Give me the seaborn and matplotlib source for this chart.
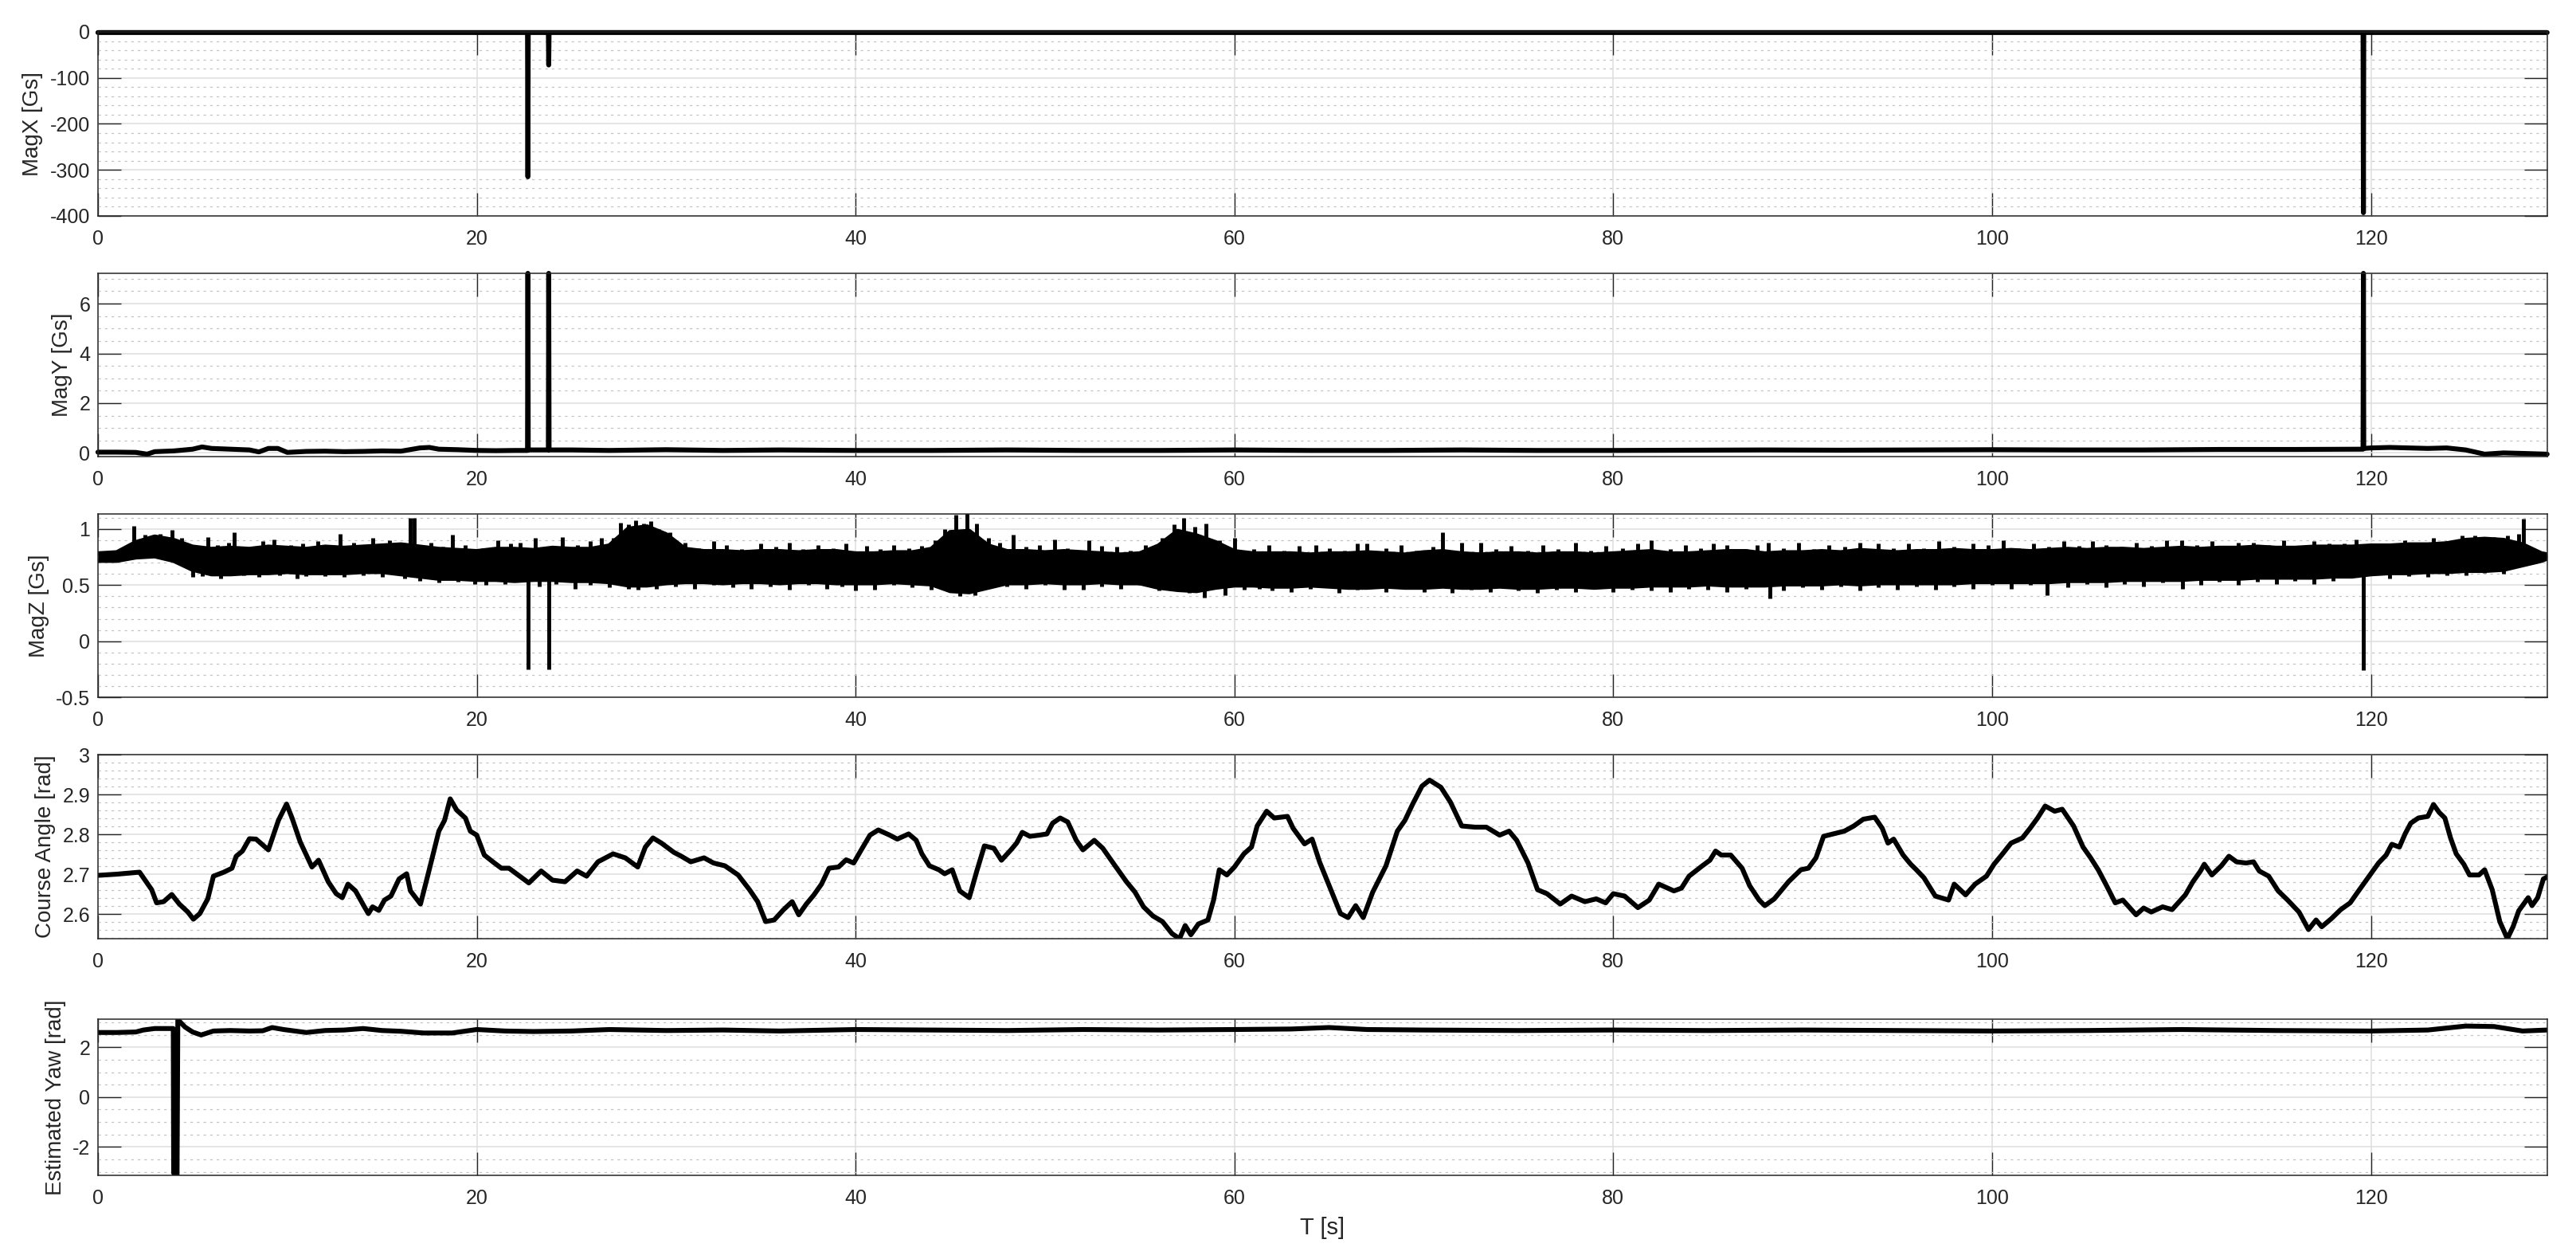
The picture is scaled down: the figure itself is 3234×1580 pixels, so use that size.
import numpy as np
import pandas as pd
import matplotlib
matplotlib.use("Agg")
import matplotlib.pyplot as plt
import seaborn as sns
from matplotlib.ticker import MultipleLocator, FuncFormatter

# ---------------- data ----------------
T_MAX = 129.3

# MagX [Gs]
magx_t = [0, 22.68, 22.70, 22.72, 23.78, 23.80, 23.82, 119.58, 119.60, 119.62, 129.3]
magx_v = [-1.5, -1.5, -315, -1.5, -1.5, -72, -1.5, -1.5, -393, -1.5, -1.5]

# MagY [Gs]
magy_t = [0, 1, 2, 2.6, 3, 4, 5, 5.5, 6, 7,
          8, 8.5, 9, 9.5, 10, 11, 12, 13, 14, 15,
          16, 17, 17.5, 18, 19, 20, 21, 22, 22.68, 22.70,
          22.72, 23, 23.78, 23.80, 23.82, 25, 27, 30, 33, 36,
          40, 44, 48, 52, 56, 60, 64, 68, 72, 76,
          80, 84, 88, 92, 96, 100, 104, 108, 112, 116,
          119.58, 119.60, 119.62, 120, 121, 122, 123, 124, 125, 126,
          127, 128, 129.3]
magy_v = [0.03, 0.03, 0.02, -0.05, 0.05, 0.08, 0.15, 0.24, 0.18, 0.15,
          0.12, 0.04, 0.18, 0.18, 0.02, 0.06, 0.07, 0.05, 0.06, 0.08,
          0.07, 0.20, 0.22, 0.15, 0.13, 0.10, 0.09, 0.10, 0.10, 7.22,
          0.12, 0.12, 0.12, 7.22, 0.12, 0.12, 0.10, 0.13, 0.10, 0.12,
          0.10, 0.10, 0.12, 0.10, 0.10, 0.12, 0.10, 0.10, 0.12, 0.10,
          0.10, 0.11, 0.12, 0.11, 0.12, 0.13, 0.12, 0.12, 0.14, 0.14,
          0.15, 7.22, 0.18, 0.20, 0.22, 0.20, 0.18, 0.20, 0.12, -0.05,
          0.00, -0.02, -0.05]

# MagZ [Gs]: noise band envelope (1 s steps) plus spikes
magz_env_t = list(range(0, 130)) + [129.3]
magz_hi = [0.78, 0.79, 0.88, 0.93, 0.90, 0.84, 0.82, 0.83, 0.82, 0.84,
           0.83, 0.82, 0.84, 0.83, 0.84, 0.85, 0.86, 0.84, 0.82, 0.81,
           0.80, 0.82, 0.82, 0.81, 0.83, 0.82, 0.82, 0.85, 1.00, 1.02,
           0.95, 0.82, 0.80, 0.80, 0.79, 0.80, 0.80, 0.79, 0.80, 0.80,
           0.78, 0.78, 0.79, 0.79, 0.82, 0.97, 0.98, 0.85, 0.80, 0.80,
           0.79, 0.80, 0.79, 0.78, 0.77, 0.78, 0.85, 0.98, 0.94, 0.88,
           0.80, 0.78, 0.78, 0.78, 0.77, 0.78, 0.78, 0.79, 0.78, 0.77,
           0.79, 0.80, 0.78, 0.77, 0.78, 0.78, 0.77, 0.78, 0.78, 0.77,
           0.78, 0.79, 0.80, 0.78, 0.78, 0.79, 0.80, 0.80, 0.78, 0.79,
           0.79, 0.80, 0.79, 0.81, 0.80, 0.79, 0.80, 0.80, 0.81, 0.80,
           0.80, 0.81, 0.80, 0.81, 0.82, 0.81, 0.82, 0.82, 0.81, 0.82,
           0.83, 0.82, 0.83, 0.83, 0.84, 0.83, 0.83, 0.84, 0.84, 0.84,
           0.85, 0.85, 0.86, 0.86, 0.87, 0.90, 0.91, 0.90, 0.86, 0.78,
           0.77]
magz_lo = [0.72, 0.72, 0.75, 0.76, 0.72, 0.64, 0.60, 0.60, 0.61, 0.61,
           0.62, 0.61, 0.61, 0.61, 0.62, 0.62, 0.60, 0.58, 0.56, 0.56,
           0.55, 0.55, 0.54, 0.55, 0.55, 0.54, 0.54, 0.53, 0.50, 0.50,
           0.52, 0.53, 0.53, 0.52, 0.53, 0.53, 0.52, 0.53, 0.53, 0.52,
           0.52, 0.52, 0.53, 0.52, 0.51, 0.45, 0.44, 0.48, 0.52, 0.52,
           0.53, 0.52, 0.52, 0.53, 0.52, 0.52, 0.48, 0.46, 0.45, 0.48,
           0.50, 0.50, 0.49, 0.49, 0.50, 0.49, 0.48, 0.48, 0.49, 0.48,
           0.48, 0.49, 0.48, 0.48, 0.49, 0.48, 0.48, 0.49, 0.49, 0.48,
           0.49, 0.49, 0.50, 0.50, 0.50, 0.51, 0.50, 0.50, 0.50, 0.51,
           0.51, 0.51, 0.52, 0.51, 0.52, 0.52, 0.52, 0.52, 0.52, 0.53,
           0.53, 0.53, 0.53, 0.53, 0.54, 0.54, 0.54, 0.55, 0.55, 0.55,
           0.55, 0.56, 0.56, 0.56, 0.57, 0.57, 0.57, 0.57, 0.58, 0.58,
           0.60, 0.61, 0.61, 0.62, 0.62, 0.63, 0.63, 0.64, 0.68, 0.72,
           0.74]
# large isolated spikes
magz_spike_t = [1.9, 3.9, 5.8, 7.2, 9.3, 12.8, 14.5, 16.5, 16.7, 18.7,
                21.1, 23.1, 24.5, 26.6, 27.6, 28.4, 29.2, 32.5, 36.5, 39.5,
                44.7, 45.3, 45.9, 46.4, 48.3, 50.5, 52.3, 56.8, 57.3, 57.9,
                58.5, 60.0, 64.3, 67.0, 71.0, 72.0, 82.0, 86.0, 88.2, 94.0,
                99.0, 106.0, 110.0, 113.8, 117.8, 121.0, 125.5, 126.5, 128.05,
                5.0, 11.0, 19.9, 22.7, 23.8, 25.2, 28.5, 29.5, 33.5, 40.0,
                45.5, 46.3, 51.0, 57.6, 58.4, 59.5, 62.0, 70.0, 75.0, 88.25,
                102.9, 110.05, 119.6]
magz_spike_v = [1.03, 0.99, 0.93, 0.97, 0.91, 0.96, 0.92, 1.10, 1.10, 0.95,
                0.90, 0.92, 0.93, 0.92, 1.06, 1.08, 1.07, 0.89, 0.88, 0.87,
                1.00, 1.13, 1.14, 1.05, 0.95, 0.91, 0.90, 1.04, 1.10, 1.02,
                1.05, 0.92, 0.86, 0.87, 0.97, 0.88, 0.90, 0.86, 0.88, 0.87,
                0.87, 0.86, 0.90, 0.88, 0.87, 0.87, 0.94, 0.93, 1.09,
                0.57, 0.58, 0.51, -0.25, -0.25, 0.47, 0.46, 0.47, 0.48, 0.45,
                0.40, 0.41, 0.46, 0.43, 0.39, 0.41, 0.45, 0.44, 0.45, 0.38,
                0.41, 0.47, -0.26]
# small ragged peaks along the band edges
magz_grass_up_t = [0.6, 2.5, 3.3, 4.4, 6.3, 6.9, 8.1, 8.7, 10.2, 10.8,
                   11.6, 12.2, 13.5, 15.4, 15.9, 17.6, 18.2, 19.4, 20.3, 21.8,
                   22.3, 24.0, 25.3, 26.0, 27.2, 28.0, 28.8, 29.6, 30.2, 31.0,
                   31.7, 33.2, 34.0, 35.0, 35.8, 37.2, 38.0, 38.8, 40.6, 41.3,
                   42.0, 42.8, 43.5, 44.2, 47.0, 47.6, 49.0, 49.7, 51.2, 53.0,
                   53.8, 54.5, 55.3, 56.2, 59.2, 61.0, 61.8, 62.6, 63.4, 65.0,
                   65.8, 66.5, 68.0, 68.8, 69.6, 70.5, 73.0, 73.8, 74.6, 75.5,
                   76.3, 77.1, 78.0, 78.8, 79.6, 80.5, 81.3, 83.0, 83.8, 84.6,
                   85.3, 87.0, 87.6, 89.0, 89.8, 90.6, 91.4, 92.2, 93.0, 94.8,
                   95.6, 96.4, 97.2, 98.0, 99.8, 100.6, 101.4, 102.2, 103.0, 103.8,
                   104.6, 105.3, 106.8, 107.6, 108.4, 109.2, 110.8, 111.6, 112.4, 113.0,
                   114.6, 115.4, 116.2, 117.0, 118.6, 119.2, 120.3, 121.8, 122.6, 123.3,
                   124.0, 124.8, 127.2, 127.8]
magz_grass_up_v = [0.80, 0.95, 0.96, 0.92, 0.86, 0.88, 0.84, 0.89, 0.86, 0.87,
                   0.89, 0.85, 0.88, 0.90, 0.86, 0.88, 0.84, 0.86, 0.83, 0.87,
                   0.88, 0.84, 0.86, 0.89, 0.92, 1.04, 1.05, 1.00, 0.97, 0.88,
                   0.83, 0.86, 0.82, 0.87, 0.84, 0.82, 0.86, 0.83, 0.85, 0.82,
                   0.86, 0.83, 0.85, 0.90, 0.92, 0.88, 0.84, 0.86, 0.83, 0.85,
                   0.84, 0.81, 0.86, 0.92, 0.90, 0.82, 0.86, 0.81, 0.85, 0.83,
                   0.81, 0.87, 0.83, 0.86, 0.81, 0.84, 0.88, 0.82, 0.85, 0.81,
                   0.86, 0.82, 0.88, 0.81, 0.85, 0.83, 0.87, 0.82, 0.86, 0.83,
                   0.87, 0.82, 0.86, 0.83, 0.88, 0.82, 0.86, 0.84, 0.88, 0.83,
                   0.87, 0.83, 0.89, 0.84, 0.86, 0.90, 0.83, 0.87, 0.84, 0.89,
                   0.85, 0.89, 0.84, 0.88, 0.85, 0.90, 0.86, 0.89, 0.84, 0.88,
                   0.86, 0.90, 0.85, 0.89, 0.87, 0.91, 0.87, 0.90, 0.88, 0.92,
                   0.89, 0.94, 0.94, 0.96]
magz_grass_dn_t = [5.5, 6.5, 7.7, 8.5, 9.6, 10.5, 12.0, 13.0, 14.0, 15.0,
                   16.2, 17.0, 18.0, 19.0, 20.5, 21.5, 23.3, 24.2, 26.0, 27.0,
                   28.0, 30.5, 31.5, 32.5, 34.5, 35.5, 36.5, 37.5, 38.5, 39.3,
                   41.0, 42.0, 43.0, 44.0, 48.0, 49.0, 50.0, 52.0, 53.0, 54.0,
                   55.0, 56.0, 60.5, 61.3, 63.0, 64.0, 65.5, 66.5, 68.0, 69.0,
                   71.5, 72.5, 73.5, 76.0, 77.0, 78.0, 79.0, 80.0, 81.0, 82.0,
                   83.0, 84.0, 85.0, 86.0, 87.0, 89.0, 90.0, 91.0, 92.0, 93.0,
                   94.0, 95.0, 96.0, 97.0, 98.0, 99.0, 100.0, 101.0, 102.0, 104.0,
                   105.0, 106.0, 107.0, 108.0, 109.0, 111.0, 112.0, 113.0, 114.0, 115.0,
                   116.0, 117.0, 118.0, 121.0, 122.0, 123.0, 124.0, 125.0, 126.0, 127.0]
magz_grass_dn_v = [0.58, 0.56, 0.59, 0.57, 0.59, 0.56, 0.58, 0.57, 0.59, 0.57,
                   0.56, 0.54, 0.52, 0.53, 0.50, 0.51, 0.49, 0.51, 0.50, 0.48,
                   0.47, 0.49, 0.47, 0.50, 0.47, 0.49, 0.46, 0.50, 0.47, 0.49,
                   0.46, 0.50, 0.48, 0.46, 0.49, 0.47, 0.50, 0.46, 0.49, 0.47,
                   0.50, 0.45, 0.46, 0.47, 0.44, 0.47, 0.43, 0.46, 0.44, 0.47,
                   0.43, 0.46, 0.44, 0.43, 0.46, 0.44, 0.47, 0.44, 0.46, 0.45,
                   0.44, 0.47, 0.46, 0.44, 0.47, 0.45, 0.48, 0.46, 0.49, 0.45,
                   0.48, 0.46, 0.49, 0.46, 0.49, 0.47, 0.50, 0.47, 0.50, 0.48,
                   0.51, 0.48, 0.51, 0.49, 0.52, 0.50, 0.53, 0.50, 0.53, 0.51,
                   0.54, 0.51, 0.54, 0.56, 0.58, 0.57, 0.59, 0.59, 0.61, 0.60]

# Course angle [rad]
ca_t = [0, 1.0, 2.2, 2.84, 3.1, 3.47, 3.9, 4.3, 4.75, 5.04,
        5.38, 5.8, 6.1, 6.65, 7.08, 7.3, 7.63, 8.0, 8.35, 9.0,
        9.53, 9.96, 10.25, 10.68, 11.3, 11.65, 12.16, 12.58, 12.9, 13.2,
        13.6, 14.07, 14.28, 14.5, 14.83, 15.13, 15.47, 15.9, 16.3, 16.5,
        17.03, 17.46, 18.0, 18.3, 18.6, 18.94, 19.4, 19.66, 20.0, 20.4,
        20.85, 21.3, 21.7, 22.1, 22.75, 23.4, 24.0, 24.66, 25.3, 25.8,
        26.4, 26.8, 27.2, 27.84, 28.5, 28.9, 29.3, 29.75, 30.4, 30.8,
        31.3, 32.0, 32.5, 33.1, 33.8, 34.4, 34.83, 35.25, 35.7, 36.2,
        36.65, 37.0, 37.4, 37.8, 38.2, 38.6, 39.1, 39.5, 39.9, 40.3,
        40.76, 41.2, 41.8, 42.2, 42.8, 43.2, 43.5, 43.9, 44.4, 44.7,
        45.1, 45.5, 46.0, 46.4, 46.8, 47.3, 47.7, 48.2, 48.5, 48.8,
        49.2, 49.7, 50.1, 50.4, 50.8, 51.2, 51.65, 52.0, 52.6, 53.05,
        53.7, 54.3, 54.75, 55.2, 55.7, 56.2, 56.7, 57.1, 57.4, 57.7,
        58.1, 58.6, 58.9, 59.2, 59.6, 60.0, 60.5, 60.9, 61.2, 61.7,
        62.1, 62.8, 63.1, 63.7, 64.1, 64.5, 65.2, 65.6, 66.0, 66.4,
        66.8, 67.3, 68.0, 68.6, 69.0, 69.4, 69.9, 70.3, 70.9, 71.4,
        72.0, 72.7, 73.3, 74.0, 74.5, 74.9, 75.5, 76.0, 76.5, 77.2,
        77.8, 78.5, 79.1, 79.6, 80.0, 80.6, 81.3, 81.9, 82.4, 83.2,
        83.6, 84.0, 84.7, 85.1, 85.4, 85.7, 86.2, 86.8, 87.2, 87.7,
        88.0, 88.5, 89.25, 89.9, 90.3, 90.7, 91.1, 91.6, 92.2, 92.7,
        93.2, 93.8, 94.2, 94.5, 94.8, 95.3, 95.7, 96.0, 96.4, 97.0,
        97.7, 98.0, 98.6, 99.1, 99.7, 100.1, 100.5, 101.0, 101.6, 102.0,
        102.4, 102.8, 103.3, 103.7, 104.3, 104.8, 105.2, 105.6, 106.0, 106.5,
        106.9, 107.6, 108.0, 108.4, 109.0, 109.5, 110.2, 110.6, 111.0, 111.2,
        111.6, 112.1, 112.5, 112.9, 113.4, 113.8, 114.1, 114.6, 115.1, 115.6,
        116.2, 116.7, 117.1, 117.4, 117.9, 118.4, 118.9, 119.3, 119.9, 120.4,
        120.8, 121.1, 121.5, 121.8, 122.1, 122.5, 123.0, 123.3, 123.6, 123.9,
        124.2, 124.5, 124.9, 125.2, 125.7, 126.0, 126.4, 126.8, 127.2, 127.5,
        127.8, 128.3, 128.5, 128.8, 129.1, 129.3]
ca_v = [2.697, 2.700, 2.705, 2.661, 2.628, 2.631, 2.649, 2.625, 2.605, 2.587,
        2.601, 2.638, 2.695, 2.705, 2.715, 2.745, 2.758, 2.789, 2.788, 2.761,
        2.835, 2.876, 2.841, 2.781, 2.718, 2.735, 2.681, 2.651, 2.641, 2.675,
        2.658, 2.618, 2.601, 2.618, 2.609, 2.635, 2.645, 2.688, 2.701, 2.658,
        2.625, 2.705, 2.808, 2.835, 2.889, 2.861, 2.841, 2.808, 2.798, 2.748,
        2.731, 2.715, 2.715, 2.701, 2.678, 2.708, 2.685, 2.681, 2.708, 2.695,
        2.731, 2.741, 2.751, 2.741, 2.718, 2.768, 2.791, 2.778, 2.755, 2.745,
        2.731, 2.741, 2.728, 2.721, 2.698, 2.661, 2.631, 2.581, 2.585, 2.611,
        2.631, 2.598, 2.625, 2.648, 2.675, 2.715, 2.718, 2.736, 2.728, 2.761,
        2.798, 2.811, 2.798, 2.788, 2.801, 2.785, 2.751, 2.721, 2.711, 2.701,
        2.711, 2.658, 2.641, 2.708, 2.771, 2.765, 2.735, 2.761, 2.778, 2.805,
        2.795, 2.798, 2.801, 2.828, 2.841, 2.831, 2.785, 2.761, 2.785, 2.765,
        2.721, 2.681, 2.655, 2.618, 2.595, 2.581, 2.551, 2.538, 2.571, 2.548,
        2.575, 2.585, 2.635, 2.711, 2.698, 2.718, 2.751, 2.768, 2.821, 2.858,
        2.841, 2.845, 2.815, 2.776, 2.788, 2.730, 2.648, 2.601, 2.591, 2.621,
        2.591, 2.655, 2.721, 2.808, 2.835, 2.875, 2.921, 2.936, 2.918, 2.881,
        2.821, 2.818, 2.818, 2.798, 2.808, 2.785, 2.728, 2.661, 2.651, 2.625,
        2.645, 2.631, 2.638, 2.628, 2.651, 2.645, 2.616, 2.635, 2.675, 2.658,
        2.665, 2.695, 2.721, 2.735, 2.758, 2.748, 2.748, 2.715, 2.671, 2.635,
        2.621, 2.638, 2.681, 2.711, 2.715, 2.741, 2.795, 2.801, 2.808, 2.821,
        2.838, 2.843, 2.815, 2.778, 2.788, 2.748, 2.725, 2.711, 2.691, 2.645,
        2.635, 2.675, 2.648, 2.675, 2.695, 2.725, 2.748, 2.778, 2.791, 2.815,
        2.841, 2.871, 2.858, 2.863, 2.821, 2.768, 2.741, 2.711, 2.675, 2.628,
        2.635, 2.598, 2.615, 2.605, 2.618, 2.611, 2.648, 2.681, 2.708, 2.725,
        2.698, 2.721, 2.745, 2.731, 2.728, 2.731, 2.708, 2.695, 2.658, 2.635,
        2.605, 2.561, 2.585, 2.568, 2.588, 2.611, 2.628, 2.655, 2.695, 2.728,
        2.748, 2.775, 2.768, 2.801, 2.828, 2.841, 2.845, 2.875, 2.855, 2.841,
        2.791, 2.751, 2.725, 2.698, 2.698, 2.711, 2.661, 2.581, 2.538, 2.568,
        2.608, 2.641, 2.621, 2.641, 2.688, 2.693]

# Estimated yaw [rad]
yaw_t = [0, 1, 2, 2.4, 3, 3.98, 4.00, 4.06, 4.09, 4.11,
         4.18, 4.22, 4.6, 5.0, 5.45, 6.1, 7, 8, 8.7, 9.2,
         9.8, 11.0, 12, 13, 14, 15, 16, 17.2, 18.7, 20,
         21.5, 23, 25, 27, 30, 33, 36, 40, 44, 48,
         52, 56, 60, 63, 65, 67, 70, 75, 80, 85,
         90, 95, 100, 105, 110, 115, 120, 123, 125, 126.5,
         128, 129.3]
yaw_v = [2.60, 2.60, 2.62, 2.70, 2.76, 2.76, -3.05, -3.12, 0.60, -3.10,
         -3.14, 3.12, 2.82, 2.62, 2.50, 2.66, 2.68, 2.66, 2.67, 2.80,
         2.72, 2.60, 2.68, 2.70, 2.76, 2.68, 2.65, 2.58, 2.58, 2.72,
         2.66, 2.64, 2.66, 2.72, 2.68, 2.70, 2.66, 2.72, 2.70, 2.68,
         2.72, 2.70, 2.72, 2.74, 2.80, 2.72, 2.70, 2.68, 2.70, 2.68,
         2.70, 2.68, 2.66, 2.68, 2.72, 2.68, 2.66, 2.70, 2.86, 2.84,
         2.66, 2.70]

y_labels = ["MagX [Gs]", "MagY [Gs]", "MagZ [Gs]", "Course Angle [rad]", "Estimated Yaw [rad]"]
x_label = "T [s]"

# ---------------- styling ----------------
sns.set_theme(style="white")
plt.rcParams["font.family"] = ["Liberation Sans", "DejaVu Sans"]
plt.rcParams["axes.unicode_minus"] = False

INK = "#262626"
LW = 4.4

fig = plt.figure(figsize=(32.34, 15.80), dpi=100)
left, width = 0.0380, 0.9508
rects = [(0.8285, 0.1462), (0.6373, 0.1456), (0.4462, 0.1456), (0.2544, 0.1462), (0.0665, 0.1241)]
axes = [fig.add_axes([left, b, width, h]) for b, h in rects]

fmt = FuncFormatter(lambda v, p: "%g" % (round(v, 6) + 0.0))

def style(ax, ylim, major, minor):
    ax.set_xlim(0, T_MAX)
    ax.set_ylim(*ylim)
    ax.xaxis.set_major_locator(MultipleLocator(20))
    ax.yaxis.set_major_locator(MultipleLocator(major))
    ax.yaxis.set_minor_locator(MultipleLocator(minor))
    ax.xaxis.set_major_formatter(fmt)
    ax.yaxis.set_major_formatter(fmt)
    ax.set_axisbelow(True)
    ax.grid(True, which="major", color="#dedede", lw=1.1, ls="-")
    ax.grid(True, which="minor", axis="y", color="#c4c4c4", lw=0.9, ls=(0, (2.6, 4.0)))
    ax.tick_params(which="major", direction="in", length=21, width=1.0, color=INK,
                   top=True, right=True, bottom=True, left=True,
                   labelsize=18, labelcolor=INK)
    ax.tick_params(axis="x", which="major", pad=12)
    ax.tick_params(axis="y", which="major", pad=7)
    ax.tick_params(which="minor", length=0)
    for s in ax.spines.values():
        s.set_color(INK)
        s.set_linewidth(1.1)
        s.set_visible(True)

# panel 1: MagX
ax = axes[0]
sns.lineplot(x=magx_t, y=magx_v, ax=ax, color="black", linewidth=LW,
             estimator=None, sort=False, legend=False, clip_on=False)
style(ax, (-400, 0), 100, 20)

# panel 2: MagY
ax = axes[1]
sns.lineplot(x=magy_t, y=magy_v, ax=ax, color="black", linewidth=LW,
             estimator=None, sort=False, legend=False, clip_on=False)
style(ax, (-0.15, 7.22), 2, 0.5)

# panel 3: MagZ
ax = axes[2]
ax.fill_between(magz_env_t, magz_lo, magz_hi, color="black", lw=0)
sns.lineplot(x=magz_env_t, y=magz_hi, ax=ax, color="black", linewidth=LW,
             estimator=None, sort=False, legend=False)
sns.lineplot(x=magz_env_t, y=magz_lo, ax=ax, color="black", linewidth=LW,
             estimator=None, sort=False, legend=False)
hi_arr = np.array(magz_hi)
lo_arr = np.array(magz_lo)
spk_t = magz_spike_t + magz_grass_up_t + magz_grass_dn_t
spk_v = magz_spike_v + magz_grass_up_v + magz_grass_dn_v
for st, sv in zip(spk_t, spk_v):
    k = min(int(round(st)), len(hi_arr) - 1)
    base = 0.5 * (hi_arr[k] + lo_arr[k])
    ax.vlines(st, base, sv, color="black", lw=LW * 0.8)
style(ax, (-0.5, 1.135), 0.5, 0.1)

# panel 4: Course angle
ax = axes[3]
sns.lineplot(x=ca_t, y=ca_v, ax=ax, color="black", linewidth=LW,
             estimator=None, sort=False, legend=False)
style(ax, (2.538, 3.0), 0.1, 0.02)

# panel 5: Estimated yaw
ax = axes[4]
sns.lineplot(x=yaw_t, y=yaw_v, ax=ax, color="black", linewidth=LW,
             estimator=None, sort=False, legend=False)
style(ax, (-np.pi, np.pi), 2, 0.5)

for ax, lab in zip(axes, y_labels):
    ax.set_ylabel(lab, fontsize=20, color=INK, labelpad=6)
    ax.set_xlabel("")
axes[-1].set_xlabel(x_label, fontsize=21, color=INK, labelpad=8)

fig.savefig("out.png", dpi=100, facecolor="white")
